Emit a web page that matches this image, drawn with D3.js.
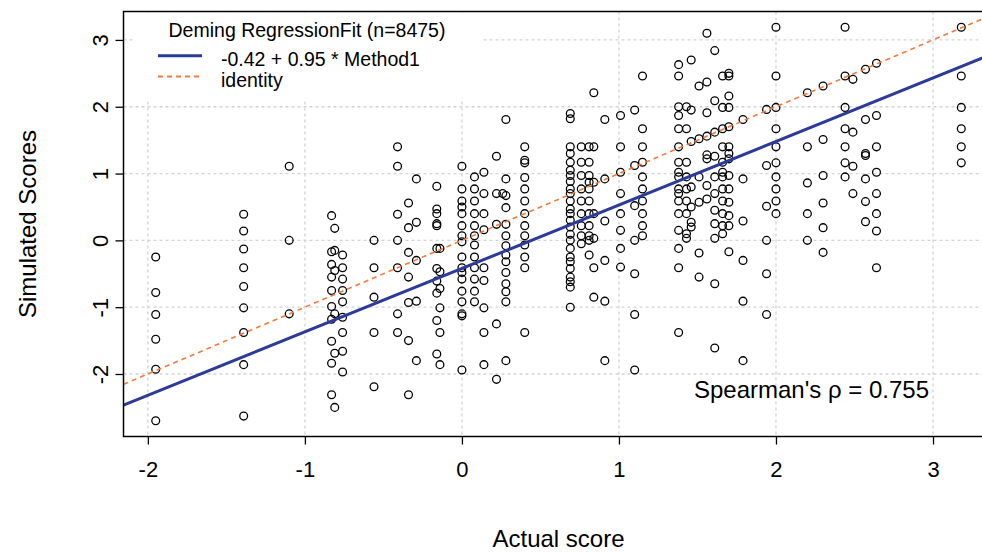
<!DOCTYPE html>
<html>
<head>
<meta charset="utf-8">
<script src="https://cdn.jsdelivr.net/npm/d3@7"></script>
<style>
	body { margin: 0; background: #fff; }
	text { font-family: "Liberation Sans", Arial, sans-serif; fill: #000; }
</style>
</head>
<body>
<div id="chart"></div>
<script>
// actual score of each column of points
var colX = [-1.95, -1.39, -1.10, -0.83, -0.81, -0.76, -0.56, -0.41, -0.34, -0.29,
	-0.16, -0.14, 0, 0.08, 0.14, 0.22, 0.26, 0.28, 0.40, 0.69,
	0.76, 0.81, 0.84, 0.91, 1.01, 1.10, 1.15, 1.38, 1.43, 1.46,
	1.51, 1.56, 1.61, 1.66, 1.70, 1.79, 1.94, 2.00, 2.20, 2.30,
	2.44, 2.49, 2.57, 2.64, 3.18];

// simulated scores in each column
var colY = [
	[-0.25, -0.78, -1.11, -1.48, -1.93, -2.70],
	[0.39, 0.14, -0.13, -0.41, -0.69, -1.01, -1.38, -1.86, -2.63],
	[1.11, 0.0, -1.10],
	[0.37, -0.17, -0.36, -0.55, -0.75, -0.99, -1.18, -1.51, -1.84, -2.31],
	[0.18, -0.15, -0.45, -1.10, -1.69, -2.50],
	[-0.22, -0.41, -0.58, -0.75, -0.92, -1.15, -1.38, -1.66, -1.97],
	[0.0, -0.41, -0.85, -1.38, -2.19],
	[1.40, 1.11, 0.39, 0.0, -0.41, -1.10, -1.38],
	[0.56, 0.19, -0.18, -0.55, -0.93, -1.50, -2.31],
	[0.92, 0.27, -0.30, -0.91, -1.80],
	[0.81, 0.47, 0.40, 0.25, 0.22, -0.12, -0.42, -0.61, -0.79, -1.20, -1.70],
	[-0.12, -0.47, -0.72, -1.01, -1.38, -1.86],
	[1.11, 0.77, 0.59, 0.50, 0.40, 0.22, 0.07, -0.02, -0.25, -0.41, -0.48, -0.58, -0.76, -0.92, -1.10, -1.13, -1.94],
	[0.95, 0.77, 0.59, 0.40, 0.22, 0.07, -0.07, -0.25, -0.41, -0.58, -0.76, -0.92],
	[1.02, 0.70, 0.40, 0.16, -0.41, -0.60, -1.01, -1.38, -1.86],
	[1.26, 0.70, 0.24, -1.25, -2.08],
	[0.70],
	[1.81, 0.92, 0.67, 0.49, 0.24, 0.07, -0.08, -0.22, -0.32, -0.48, -0.65, -0.77, -0.92, -1.80],
	[1.40, 1.20, 1.16, 0.94, 0.77, 0.59, 0.40, 0.22, 0.07, -0.07, -0.25, -0.41, -1.38],
	[1.90, 1.82, 1.40, 1.30, 1.17, 1.05, 0.97, 0.88, 0.77, 0.70, 0.59, 0.47, 0.40, 0.30, 0.20, 0.09, 0, -0.12, -0.25, -0.32, -0.42, -0.55, -0.62, -0.70, -1.0],
	[1.40, 1.17, 0.97, 0.77, 0.59, 0.40, 0.22, 0.07, -0.05],
	[1.40, 1.17, 0.97, 0.87, 0.77, 0.59, 0.40, 0.22, 0.07, 0.0, -0.22],
	[2.21, 1.40, 0.87, 0.40, 0.03, -0.41, -0.85],
	[1.81, 0.92, 0.29, -0.30, -0.91, -1.80],
	[1.87, 1.40, 1.02, 0.70, 0.40, 0.15, -0.12, -0.40],
	[1.95, 1.12, 0.52, 0.0, -0.50, -1.11, -1.94],
	[2.46, 1.67, 1.40, 1.17, 0.95, 0.77, 0.59, 0.40, 0.22, 0.07],
	[2.63, 2.46, 2.0, 1.87, 1.67, 1.40, 1.17, 1.02, 0.95, 0.77, 0.70, 0.59, 0.40, 0.15, -0.12, -0.41, -1.38],
	[2.0, 1.67, 1.17, 0.95, 0.77, 0.59, 0.40, 0.10, 0.03],
	[2.70, 1.95, 1.48, 0.80, 0.50, 0.27, 0.20],
	[2.31, 1.52, 0.95, 0.57, -0.19, -0.55],
	[3.10, 2.37, 1.91, 1.56, 1.28, 1.22, 0.82, 0.62],
	[2.84, 2.09, 1.62, 1.26, 0.95, 0.70, 0.45, 0.25, 0.03, -0.65, -1.61],
	[2.46, 1.99, 1.67, 1.40, 1.17, 1.02, 0.95, 0.77, 0.59, 0.40, 0.22, 0.10],
	[2.50, 2.46, 2.16, 1.99, 1.70, 1.40, 1.30, 1.22, 0.97, 0.77, 0.57, 0.37, 0.22, -0.17],
	[1.81, 0.92, 0.29, -0.30, -0.91, -1.80],
	[1.96, 1.12, 0.51, 0.0, -0.50, -1.11],
	[3.19, 2.46, 1.99, 1.67, 1.40, 1.16, 0.95, 0.77, 0.59, 0.40],
	[2.21, 1.40, 0.86, 0.40, 0.0],
	[2.31, 1.51, 0.97, 0.56, 0.19, -0.18],
	[3.19, 2.46, 1.99, 1.67, 1.40, 1.16, 0.95],
	[2.41, 1.62, 1.11, 0.70],
	[2.56, 1.81, 1.30, 1.27, 0.92, 0.58, 0.28],
	[2.65, 1.87, 1.40, 1.02, 0.70, 0.40, 0.14, -0.41],
	[3.19, 2.46, 1.99, 1.67, 1.40, 1.16]
];

var xTicks = [-2, -1, 0, 1, 2, 3];
var yTicks = [-2, -1, 0, 1, 2, 3];
var fitIntercept = -0.42, fitSlope = 0.95;
var legendTitle = "Deming RegressionFit (n=8475)";
var legendLabels = ["-0.42 + 0.95 * Method1", "identity"];
var spearmanLabel = "Spearman's \u03c1 = 0.755";

var w = 982,
	h = 553,
	svg = d3
		.select("#chart")
		.append("svg")
		.attr("width", w)
		.attr("height", h);

// plot region (right side runs past the window like the original)
var box = { left: 123.5, right: 993.5, top: 11.5, bottom: 436.5 };

var points = [];
colX.forEach(function(x, i) {
	colY[i].forEach(function(y) { points.push({ x: x, y: y }); });
});

// R style 4% padding on the data range
function padded(ext) {
	var r = ext[1] - ext[0];
	return [ext[0] - 0.04 * r, ext[1] + 0.04 * r];
}

var x = d3.scaleLinear()
	.domain(padded(d3.extent(points, function(d){ return d.x; })))
	.range([box.left, box.right]);

var y = d3.scaleLinear()
	.domain(padded(d3.extent(points, function(d){ return d.y; })))
	.range([box.bottom, box.top]);

svg.append("clipPath").attr("id", "clip")
	.append("rect")
	.attr("x", box.left).attr("y", box.top)
	.attr("width", box.right - box.left).attr("height", box.bottom - box.top);

var plot = svg.append("g").attr("clip-path", "url(#clip)");

// grid
plot.selectAll("line.gx").data(xTicks).enter().append("line")
	.attr("x1", function(d){ return x(d); }).attr("x2", function(d){ return x(d); })
	.attr("y1", box.top).attr("y2", box.bottom)
	.style("stroke", "#d3d3d3").style("stroke-width", 1.3).style("stroke-dasharray", "3,3");
plot.selectAll("line.gy").data(yTicks).enter().append("line")
	.attr("y1", function(d){ return y(d); }).attr("y2", function(d){ return y(d); })
	.attr("x1", box.left).attr("x2", box.right)
	.style("stroke", "#d3d3d3").style("stroke-width", 1.3).style("stroke-dasharray", "3,3");

// points
plot.selectAll("circle").data(points).enter().append("circle")
	.attr("cx", function(d){ return x(d.x); })
	.attr("cy", function(d){ return y(d.y); })
	.attr("r", 3.9)
	.style("fill", "none")
	.style("stroke", "#000")
	.style("stroke-width", 1.3);

// lines
var xd = x.domain();
plot.append("line")
	.attr("x1", x(xd[0])).attr("y1", y(xd[0]))
	.attr("x2", x(xd[1])).attr("y2", y(xd[1]))
	.style("stroke", "#f47a3c").style("stroke-width", 1.6).style("stroke-dasharray", "5,4");
plot.append("line")
	.attr("x1", x(xd[0])).attr("y1", y(fitIntercept + fitSlope * xd[0]))
	.attr("x2", x(xd[1])).attr("y2", y(fitIntercept + fitSlope * xd[1]))
	.style("stroke", "#2b3a9b").style("stroke-width", 3);

// legend
var lg = svg.append("g");
lg.append("rect")
	.attr("x", 133).attr("y", box.top + 1).attr("width", 349).attr("height", 86)
	.style("fill", "#fff");
lg.append("text")
	.attr("x", 307).attr("y", 37)
	.attr("text-anchor", "middle")
	.style("font-size", "19.5px")
	.text(legendTitle);
lg.selectAll("text.item").data(legendLabels).enter().append("text")
	.attr("x", 221).attr("y", function(d, i){ return 66 + i * 20.5; })
	.style("font-size", "19.5px")
	.text(function(d){ return d; });
lg.append("line")
	.attr("x1", 158).attr("x2", 202).attr("y1", 55.7).attr("y2", 55.7)
	.style("stroke", "#2b3a9b").style("stroke-width", 3);
lg.append("line")
	.attr("x1", 158).attr("x2", 202).attr("y1", 76.5).attr("y2", 76.5)
	.style("stroke", "#f47a3c").style("stroke-width", 1.8).style("stroke-dasharray", "5,4");

svg.append("text")
	.attr("x", 929).attr("y", 398)
	.attr("text-anchor", "end")
	.style("font-size", "24px")
	.text(spearmanLabel);

// box
svg.append("rect")
	.attr("x", box.left).attr("y", box.top)
	.attr("width", box.right - box.left).attr("height", box.bottom - box.top)
	.style("fill", "none").style("stroke", "#000").style("stroke-width", 1.5);

// axes (plain hyphen minus like R)
var fmt = function(d){ return String(d); };
var ax = svg.append("g")
	.attr("transform", `translate(0, ${box.bottom})`)
	.call(d3.axisBottom(x).tickValues(xTicks).tickSize(8).tickFormat(fmt));
var ay = svg.append("g")
	.attr("transform", `translate(${box.left}, 0)`)
	.call(d3.axisLeft(y).tickValues(yTicks).tickSize(8).tickFormat(fmt));
[ax, ay].forEach(function(g) {
	g.select(".domain").remove();
	g.selectAll(".tick line").style("stroke", "#000").style("stroke-width", 1.3);
	g.selectAll("text").style("font-size", "22px").style("font-family", "Liberation Sans, Arial, sans-serif").attr("fill", "#000");
});
ax.selectAll("text").attr("y", 40).attr("dy", "0");
ay.selectAll("text")
	.attr("x", 0).attr("dy", "0")
	.attr("text-anchor", "middle")
	.attr("transform", "translate(-16, 0) rotate(-90)");

svg.append("text")
	.attr("x", (box.left + box.right) / 2).attr("y", 547)
	.attr("text-anchor", "middle")
	.style("font-size", "24px")
	.text("Actual score");
svg.append("text")
	.attr("transform", `translate(36, ${(box.top + box.bottom) / 2}) rotate(-90)`)
	.attr("text-anchor", "middle")
	.style("font-size", "24px")
	.text("Simulated Scores");
</script>
</body>
</html>
